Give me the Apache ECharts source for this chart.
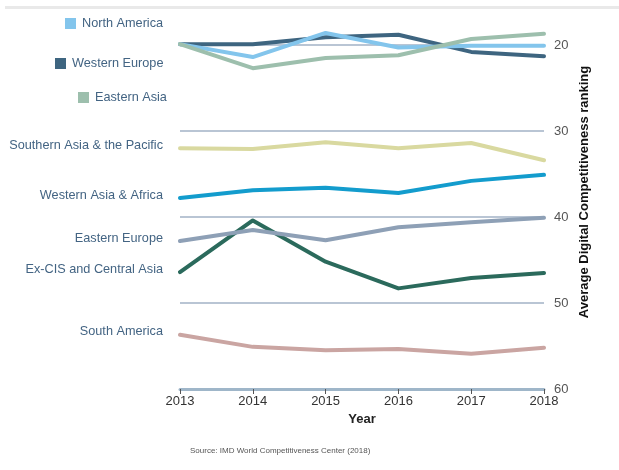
<!DOCTYPE html>
<html>
<head>
<meta charset="utf-8">
<script src="https://cdn.jsdelivr.net/npm/echarts@6/dist/echarts.min.js"></script>
<style>
  html, body { margin: 0; padding: 0; background: #fff; }
  #chart { width: 619px; height: 470px; }
</style>
</head>
<body>
<div id="chart"></div>
<script>
// Years on the horizontal axis
const years = ['2013', '2014', '2015', '2016', '2017', '2018'];
// Ranking ticks on the right axis
const rankTicks = [20, 30, 40, 50, 60];

// Average digital competitiveness ranking per region
const northAmerica   = [19.9, 21.4, 18.6, 20.3, 20.1, 20.1];
const westernEurope  = [19.9, 19.9, 19.1, 18.8, 20.8, 21.3];
const easternAsia    = [19.9, 22.7, 21.5, 21.2, 19.3, 18.7];
const southernAsia   = [32.0, 32.1, 31.3, 32.0, 31.4, 33.4];
const westernAsiaAfr = [37.8, 36.9, 36.6, 37.2, 35.8, 35.1];
const easternEurope  = [42.8, 41.5, 42.7, 41.2, 40.6, 40.1];
const exCIS          = [46.4, 40.4, 45.2, 48.3, 47.1, 46.5];
const southAmerica   = [53.7, 55.1, 55.5, 55.35, 55.9, 55.2];

const labelColor = '#436483';
const font = 'Liberation Sans, Arial, sans-serif';
const labelSize = 12.7;

function lineSeries(name, data, color, startLabel) {
  const points = data.map((v, i) => {
    if (i === 0 && startLabel) {
      return { value: v, label: { show: true } };
    }
    return v;
  });
  return {
    name: name,
    type: 'line',
    data: points,
    symbol: 'circle',
    symbolSize: 0,
    showSymbol: true,
    clip: false,
    lineStyle: { color: color, width: 4, cap: 'round', join: 'round' },
    itemStyle: { color: color },
    label: {
      show: false,
      position: 'left',
      distance: 17,
      offset: [0, -3],
      formatter: name,
      color: labelColor,
      fontSize: labelSize,
      fontFamily: font
    },
    emphasis: { disabled: true }
  };
}

function legendFor(name, left, top) {
  return {
    data: [{ name: name, icon: 'rect' }],
    left: left,
    top: top,
    itemWidth: 11,
    itemHeight: 11,
    itemGap: 0,
    padding: 0,
    textStyle: { color: labelColor, fontSize: labelSize, fontFamily: font, padding: [0, 0, 0, 1] },
    selectedMode: false
  };
}

const chart = echarts.init(document.getElementById('chart'), null, { renderer: 'canvas' });

chart.setOption({
  animation: false,
  backgroundColor: '#fff',
  grid: { left: 180, right: 75, top: 45, bottom: 81 },
  legend: [
    legendFor('North America', 65, 17),
    legendFor('Western Europe', 55, 57),
    legendFor('Eastern Asia', 78, 91)
  ],
  xAxis: {
    type: 'category',
    data: years,
    boundaryGap: false,
    name: 'Year',
    nameLocation: 'middle',
    nameGap: 24,
    nameTextStyle: { color: '#222', fontSize: 13, fontWeight: 'bold', fontFamily: font },
    axisLine: { lineStyle: { color: '#9fb6c9', width: 3 } },
    axisTick: { show: true, length: 5, lineStyle: { color: '#555', width: 1 } },
    axisLabel: { color: '#333', fontSize: 13, margin: 6, fontFamily: font },
    splitLine: { show: false }
  },
  yAxis: {
    type: 'value',
    position: 'right',
    inverse: true,
    min: rankTicks[0],
    max: rankTicks[rankTicks.length - 1],
    interval: 10,
    axisLine: { show: false },
    axisTick: { show: false },
    axisLabel: { color: '#555', fontSize: 13, margin: 10, fontFamily: font },
    splitLine: { show: true, lineStyle: { color: '#b9c5d4', width: 2 } }
  },
  graphic: [
    { type: 'rect', left: 5, top: 6, shape: { width: 614, height: 3 }, style: { fill: '#e9e9e9' }, silent: true },
    {
      type: 'text',
      x: 584,
      y: 192,
      rotation: Math.PI / 2,
      style: {
        text: 'Average Digital Competitiveness ranking',
        fill: '#111',
        font: 'bold 13px ' + font,
        textAlign: 'center',
        textVerticalAlign: 'middle'
      },
      silent: true
    },
    {
      type: 'text',
      left: 190,
      top: 447,
      style: {
        text: 'Source: IMD World Competitiveness Center (2018)',
        fill: '#555',
        font: '8px ' + font
      },
      silent: true
    }
  ],
  series: [
    lineSeries('South America', southAmerica, '#caa5a2', true),
    lineSeries('Ex-CIS and Central Asia', exCIS, '#2b6a5c', true),
    lineSeries('Eastern Europe', easternEurope, '#8ea0b6', true),
    lineSeries('Western Asia & Africa', westernAsiaAfr, '#139ccd', true),
    lineSeries('Southern Asia & the Pacific', southernAsia, '#d9d9a0', true),
    lineSeries('Western Europe', westernEurope, '#3e6580', false),
    lineSeries('North America', northAmerica, '#83c5ec', false),
    lineSeries('Eastern Asia', easternAsia, '#9dbfad', false)
  ]
});
</script>
</body>
</html>
